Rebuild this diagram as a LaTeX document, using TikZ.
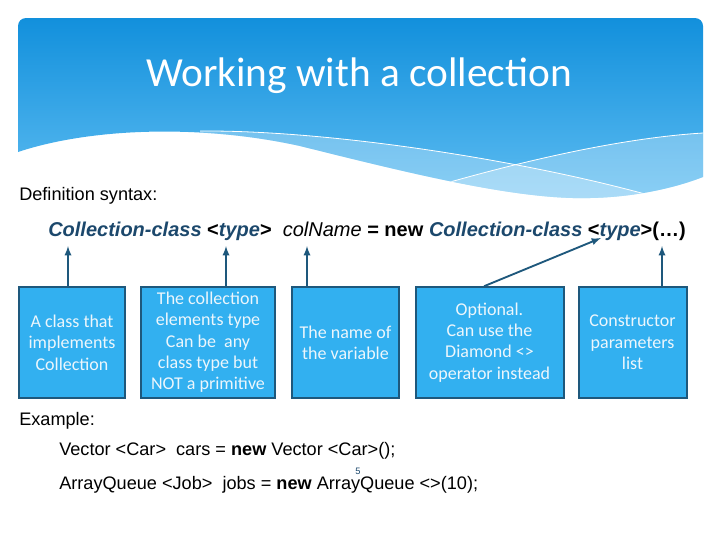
\documentclass[tikz,border=0pt]{standalone}
\usepackage{fontspec}
\usepackage{xcolor}
\usepackage{tikz}
\setmainfont{Liberation Sans}
\newfontfamily\slidefont{Carlito}

\definecolor{headtop}{RGB}{18,144,220}
\definecolor{headbot}{RGB}{96,190,242}
\definecolor{boxblue}{RGB}{50,176,240}
\definecolor{edgeblue}{RGB}{30,88,124}
\definecolor{synblue}{RGB}{28,72,108}
\definecolor{boxtext}{RGB}{236,246,252}

\tikzset{
  infobox/.style={draw=edgeblue, line width=1.5pt, fill=boxblue, text=boxtext,
    minimum height=83pt, align=center, inner sep=0pt,
    font=\slidefont\fontsize{13.5}{16}\selectfont},
  pointer/.style={edgeblue, line width=1.4pt, -latex},
  bodytext/.style={anchor=base west, inner sep=0pt, font=\fontsize{13.6}{16}\selectfont}
}

\begin{document}
\begin{tikzpicture}[x=0.75pt, y=-0.75pt]
    \useasboundingbox (0,0) rectangle (720,540);

    % Header band with wavy lower edge
    \begin{scope}
        \clip[rounded corners=6pt] (18,152) |- (703,18) [sharp corners] -- (703,177) .. controls (680,186) and (640,197) .. (590,198) .. controls (520,200) and (420,176) .. (300,146) .. controls (200,124) and (90,128) .. (18,152) -- cycle;
        \shade[top color=headtop, bottom color=headbot] (18,18) rectangle (703,205);
        \fill[white, opacity=0.28] (200,131) .. controls (330,130) and (520,160) .. (645,194) -- (645,230) -- (200,230) -- cycle;
        \fill[white, opacity=0.28] (443,184) .. controls (520,162) and (620,138) .. (703,133) -- (703,230) -- (443,230) -- cycle;
        \draw[white, line width=0.6pt] (200,131) .. controls (330,130) and (520,160) .. (645,194);
        \draw[white, line width=0.6pt] (443,184) .. controls (520,162) and (620,138) .. (703,133);
    \end{scope}
    \node[text=white, font=\slidefont\fontsize{31}{36}\selectfont] (title) at (359,76) {Working with a collection};

    % Definition line
    \node[bodytext] (deflabel) at (19,200) {Definition syntax:};
    \node[bodytext, font=\fontsize{15}{18}\selectfont] (syntax) at (48,236)
        {\textbf{\textit{\color{synblue}Collection-class}} \textbf{<\textit{\color{synblue}type}>}\ \ \textit{colName} \textbf{= new} \textbf{\textit{\color{synblue}Collection-class}} \textbf{<\textit{\color{synblue}type}>(…)}};

    % Explanation boxes
    \node[infobox, minimum width=80pt] (b1) at (72,342.5) {A class that\\implements\\Collection};
    \node[infobox, minimum width=100pt] (b2) at (208,342.5) {The collection\\elements type\\Can be\ \ any\\class type but\\NOT a primitive};
    \node[infobox, minimum width=80pt] (b3) at (345.5,342.5) {The name of\\the variable};
    \node[infobox, minimum width=111pt] (b4) at (489.5,342.5) {Optional.\\Can use the\\Diamond <>\\operator instead};
    \node[infobox, minimum width=81pt] (b5) at (632.5,342.5) {Constructor\\parameters\\list};

    % Arrow targets under the syntax line
    \coordinate (t1) at (68,246);
    \coordinate (t2) at (226,246);
    \coordinate (t3) at (307,246);
    \coordinate (t4) at (601,238);
    \coordinate (t5) at (662,246);
    \draw[pointer] (b1.north -| t1) -- (t1);
    \draw[pointer] (b2.north -| t2) -- (t2);
    \draw[pointer] (b3.north -| t3) -- (t3);
    \draw[pointer] ([xshift=-4pt]b4.north) -- (t4);
    \draw[pointer] (b5.north -| t5) -- (t5);

    % Example
    \node[bodytext] (exlabel) at (19,425) {Example:};
    \node[bodytext] (ex1) at (59,455) {Vector <Car>\ \ cars = \textbf{new} Vector <Car>();};
    \node[bodytext] (ex2) at (59,489) {ArrayQueue <Job>\ \ jobs = \textbf{new} ArrayQueue <>(10);};
    \node[text=synblue, font=\fontsize{7}{8}\selectfont, inner sep=0pt] (pagenum) at (358,471) {5};
\end{tikzpicture}
\end{document}
